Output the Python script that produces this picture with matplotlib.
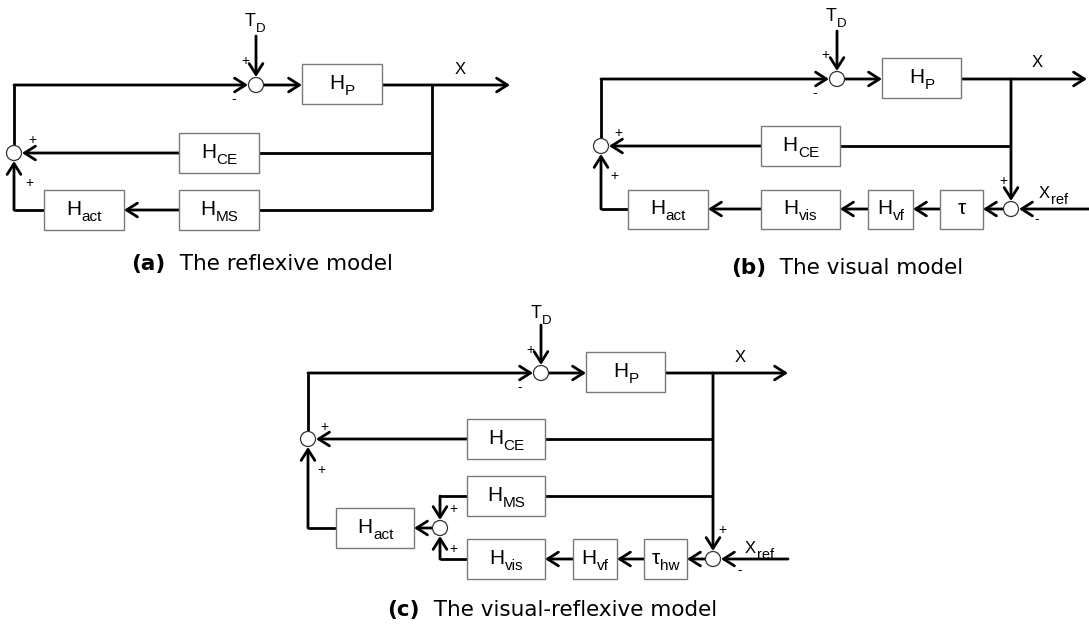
import matplotlib
matplotlib.use("Agg")
import matplotlib.pyplot as plt
from matplotlib.patches import Rectangle, Circle

plt.rcParams['font.family'] = ['Liberation Sans', 'DejaVu Sans']

LW = 2.0
BOX_EDGE = '#7a7a7a'

# captions of the three panels
captions = [("(a)", "The reflexive model"),
            ("(b)", "The visual model"),
            ("(c)", "The visual-reflexive model")]
caption_pos = [(262, 264), (847, 268), (552, 610)]

# block labels per panel: (main letter, subscript)
labels_a = [('H', 'P'), ('H', 'CE'), ('H', 'MS'), ('H', 'act')]
labels_b = [('H', 'P'), ('H', 'CE'), ('τ', ''), ('H', 'vf'), ('H', 'vis'), ('H', 'act')]
labels_c = [('H', 'P'), ('H', 'CE'), ('H', 'MS'), ('H', 'act'), ('τ', 'hw'), ('H', 'vf'), ('H', 'vis')]

# block rectangles (x0, x1, y0, y1) in pixels
boxes_a = [(302, 382, 64, 104), (179, 259, 133, 173), (179, 259, 190, 230), (44, 124, 190, 230)]
boxes_b = [(882, 961, 58, 98), (761, 840, 126, 166), (940, 983, 190, 229),
           (868, 913, 190, 229), (761, 840, 190, 229), (628, 708, 190, 229)]
boxes_c = [(586, 665, 352, 392), (467, 545, 419, 459), (467, 545, 476, 516), (336, 414, 508, 548),
           (644, 687, 539, 579), (573, 617, 539, 579), (467, 545, 539, 579)]

# summing junctions
sums_a = [(256, 85), (14, 153)]
sums_b = [(837, 79), (601, 146), (1011, 209)]
sums_c = [(541, 373), (308, 439), (440, 528), (713, 559)]
R = 7.5

# plain lines (polylines without heads)
lines_a = [[(432, 85), (432, 210)], [(432, 153), (259, 153)], [(432, 210), (259, 210)]]
lines_b = [[(1011, 146), (840, 146)]]
lines_c = [[(713, 439), (545, 439)], [(713, 496), (545, 496)]]

# polylines ending with an arrow head
arrows_a = [[(256, 36), (256, 77)], [(14, 145), (14, 85), (248, 85)], [(264, 85), (302, 85)],
            [(382, 85), (510, 85)], [(179, 153), (22, 153)], [(179, 210), (124, 210)],
            [(44, 210), (14, 210), (14, 161)]]
arrows_b = [[(837, 31), (837, 71)], [(601, 138), (601, 79), (829, 79)], [(845, 79), (882, 79)],
            [(961, 79), (1087, 79)], [(1011, 79), (1011, 201)], [(761, 146), (609, 146)],
            [(1089, 209), (1019, 209)], [(1003, 209), (983, 209)], [(940, 209), (913, 209)],
            [(868, 209), (840, 209)], [(761, 209), (708, 209)], [(628, 209), (601, 209), (601, 154)]]
arrows_c = [[(541, 325), (541, 365)], [(308, 431), (308, 373), (533, 373)], [(549, 373), (586, 373)],
            [(665, 373), (788, 373)], [(713, 373), (713, 551)], [(467, 439), (316, 439)],
            [(467, 496), (440, 496), (440, 520)], [(432, 528), (414, 528)],
            [(336, 528), (308, 528), (308, 447)], [(788, 559), (721, 559)], [(705, 559), (687, 559)],
            [(644, 559), (617, 559)], [(573, 559), (545, 559)], [(467, 559), (440, 559), (440, 536)]]

# signal names: (x centre, baseline y, main, subscript, size, subsize)
names_a = [(255, 26, 'T', 'D', 13, 9.5), (460, 74, 'X', '', 12, 9)]
names_b = [(836, 21, 'T', 'D', 13, 9.5), (1037, 67, 'X', '', 12, 9), (1053, 198, 'X', 'ref', 12, 10.5)]
names_c = [(541, 318, 'T', 'D', 13, 9.5), (740, 362, 'X', '', 12, 9), (759, 553, 'X', 'ref', 12, 10.5)]

# junction signs: (x, y, sign)
signs_a = [(245, 61, '+'), (234, 99, '-'), (32, 140, '+'), (29, 183, '+')]
signs_b = [(825, 55, '+'), (815, 93, '-'), (618, 133, '+'), (614, 176, '+'),
           (1037, 219, '-'), (1003, 181, '+')]
signs_c = [(530, 350, '+'), (520, 387, '-'), (324, 427, '+'), (321, 470, '+'),
           (453, 509, '+'), (453, 549, '+'), (740, 570, '-'), (722, 530, '+')]

fig = plt.figure(figsize=(10.89, 6.32), dpi=100)
ax = fig.add_axes([0, 0, 1, 1])
ax.set_xlim(0, 1089)
ax.set_ylim(632, 0)
ax.axis('off')
renderer = fig.canvas.get_renderer()


def sub_label(x, y, main, sub, size, subsize, drop):
    # main text + lowered subscript, centred as a whole on x, baseline at y
    t1 = ax.text(0, y, main, fontsize=size, ha='left', va='baseline', zorder=4)
    w1 = t1.get_window_extent(renderer).width
    w2 = 0
    t2 = None
    if sub:
        t2 = ax.text(0, y + drop, sub, fontsize=subsize, ha='left', va='baseline', zorder=4)
        w2 = t2.get_window_extent(renderer).width
    x0 = x - (w1 + w2) / 2
    t1.set_x(x0)
    if t2 is not None:
        t2.set_x(x0 + w1 + 0.5)


def draw_panel(labels, boxes, sums, lines, arrows, names, signs):
    for (m, s), (x0, x1, y0, y1) in zip(labels, boxes):
        ax.add_patch(Rectangle((x0, y0), x1 - x0, y1 - y0, facecolor='white',
                               edgecolor=BOX_EDGE, lw=1.0, zorder=3))
        sub_label((x0 + x1) / 2, (y0 + y1) / 2 + 5, m, s, 15, 11, 6)
    for pts in lines:
        xs, ys = zip(*pts)
        ax.plot(xs, ys, color='black', lw=LW, solid_capstyle='butt', zorder=2)
    for pts in arrows:
        if len(pts) > 2:
            xs, ys = zip(*pts[:-1])
            ax.plot(xs, ys, color='black', lw=LW, solid_capstyle='butt',
                    solid_joinstyle='miter', zorder=2)
        ax.annotate('', xy=pts[-1], xytext=pts[-2],
                    arrowprops=dict(arrowstyle='->,head_length=0.6,head_width=0.38',
                                    lw=LW, color='black', shrinkA=0, shrinkB=0,
                                    mutation_scale=13), zorder=2)
    for cx, cy in sums:
        ax.add_patch(Circle((cx, cy), R, facecolor='white', edgecolor='#333333',
                            lw=0.9, zorder=3))
    for x, y, m, s, size, subsize in names:
        sub_label(x, y, m, s, size, subsize, 6)
    for x, y, t in signs:
        ax.text(x, y, t, ha='center', va='center', fontsize=10, zorder=4)


draw_panel(labels_a, boxes_a, sums_a, lines_a, arrows_a, names_a, signs_a)
draw_panel(labels_b, boxes_b, sums_b, lines_b, arrows_b, names_b, signs_b)
draw_panel(labels_c, boxes_c, sums_c, lines_c, arrows_c, names_c, signs_c)

# captions: bold tag followed by normal text, centred as a whole
for (tag, body), (cx, cy) in zip(captions, caption_pos):
    t1 = ax.text(0, cy, tag, fontsize=15.5, fontweight='bold', family='DejaVu Sans',
                 ha='left', va='center')
    t2 = ax.text(0, cy, '  ' + body, fontsize=15.5, family='DejaVu Sans',
                 ha='left', va='center')
    w1 = t1.get_window_extent(renderer).width
    w2 = t2.get_window_extent(renderer).width
    x0 = cx - (w1 + w2) / 2
    t1.set_x(x0)
    t2.set_x(x0 + w1)

fig.savefig('out.png', dpi=100)
